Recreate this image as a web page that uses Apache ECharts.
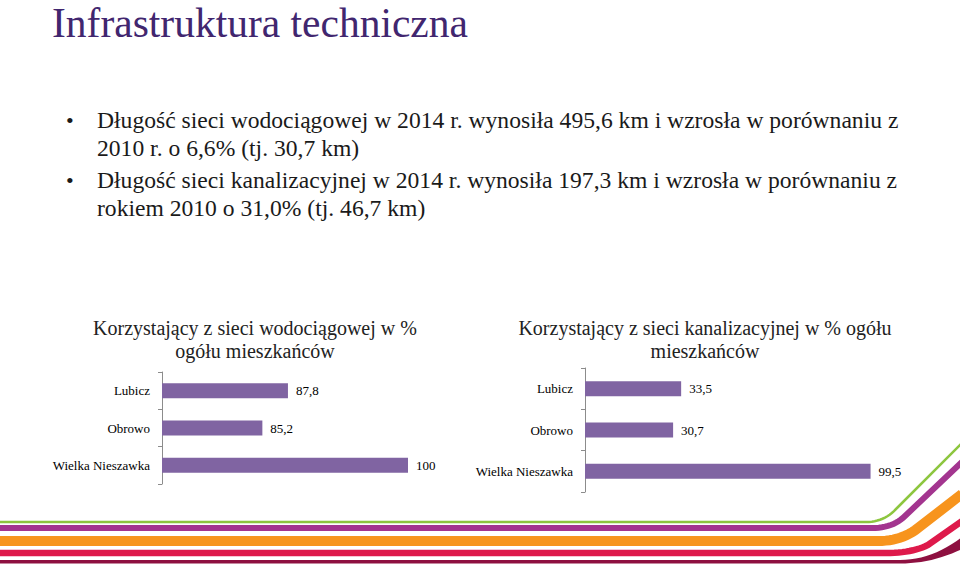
<!DOCTYPE html>
<html>
<head>
<meta charset="utf-8">
<script src="https://cdn.jsdelivr.net/npm/echarts@6/dist/echarts.min.js"></script>
<style>
html,body{margin:0;padding:0;background:#fff;}
#main{width:960px;height:569px;}
</style>
</head>
<body>
<div id="main"></div>
<script>
// ---- data ----
const categories = ['Lubicz', 'Obrowo', 'Wielka Nieszawka'];
const waterValues = [87.8, 85.2, 100];
const sewerValues = [33.5, 30.7, 99.5];
const slideTitle = 'Infrastruktura techniczna';
const bulletLines = [
  'Długość sieci wodociągowej w 2014 r. wynosiła 495,6 km i wzrosła w porównaniu z',
  '2010 r. o 6,6% (tj. 30,7 km)',
  'Długość sieci kanalizacyjnej w 2014 r. wynosiła 197,3 km i wzrosła w porównaniu z',
  'rokiem 2010 o 31,0% (tj. 46,7 km)'
];
const waterTitle = ['Korzystający z sieci wodociągowej w %', 'ogółu mieszkańców'];
const sewerTitle = ['Korzystający z sieci kanalizacyjnej w % ogółu', 'mieszkańców'];

// ---- styles ----
const SERIF_FAMILY = 'Liberation Serif';
const SERIF = '"Liberation Serif", "DejaVu Serif", serif';
const BAR = '#8064A2';
const fmt = p => String(p.value).replace('.', ',');

function txt(text, x, y, size, color, align) {
  return {
    type: 'text', x: x, y: y, silent: true,
    style: {
      text: text, fill: color, font: size + 'px ' + SERIF,
      align: align || 'left', textAlign: align || 'left',
      verticalAlign: 'middle', textVerticalAlign: 'middle'
    }
  };
}
// decorative stripe: straight run, quadratic bend, straight diagonal
function bendPoints(y, xBend, cx, cy, ex, ey, tx, ty) {
  const pts = [[0, y], [xBend, y]];
  for (let i = 1; i <= 12; i++) {
    const t = i / 12, u = 1 - t;
    pts.push([u * u * xBend + 2 * u * t * cx + t * t * ex, u * u * y + 2 * u * t * cy + t * t * ey]);
  }
  pts.push([tx, ty]);
  return pts;
}
function stripe(pts, color, w) {
  return { type: 'polyline', silent: true, shape: { points: pts },
    style: { fill: null, stroke: color, lineWidth: w } };
}

const graphics = [];
graphics.push(txt(slideTitle, 52, 23, 41.5, '#41266F'));
const lineY = [120, 148, 180, 208];
bulletLines.forEach((l, i) => graphics.push(txt(l, 97, lineY[i], 23.6, '#1a1a1a')));
graphics.push(txt('•', 66, lineY[0], 22, '#1a1a1a'));
graphics.push(txt('•', 66, lineY[2], 22, '#1a1a1a'));
graphics.push(txt(waterTitle[0], 255, 328, 20, '#222', 'center'));
graphics.push(txt(waterTitle[1], 255, 351, 20, '#222', 'center'));
graphics.push(txt(sewerTitle[0], 705, 328, 20, '#222', 'center'));
graphics.push(txt(sewerTitle[1], 705, 351, 20, '#222', 'center'));

// decorative stripes
graphics.push(stripe(bendPoints(522, 866, 884, 522, 896, 509, 962, 443), '#8DC63F', 2.5));
graphics.push(stripe(bendPoints(528, 872, 893, 528, 905, 516, 962, 462), '#A3358F', 6));
graphics.push(stripe(bendPoints(541, 878, 902, 541, 918, 528, 962, 494), '#F7941D', 10));
graphics.push(stripe(bendPoints(553, 886, 912, 553, 928, 545, 962, 521), '#DE1A4B', 6.5));
(function () {
  const top = bendPoints(560, 900, 932, 560, 962, 537, 962, 537);
  const bot = bendPoints(563.5, 900, 932, 563.5, 962, 549, 962, 549).reverse();
  graphics.push({ type: 'polygon', silent: true, shape: { points: top.concat(bot) },
    style: { fill: '#8E1040', stroke: null } });
})();

function yAx(gridIndex) {
  return {
    type: 'category', gridIndex: gridIndex, data: categories, inverse: true,
    axisLine: { show: true, lineStyle: { color: '#8C8C8C', width: 1 } },
    axisTick: { show: true, length: 4, lineStyle: { color: '#8C8C8C' } },
    axisLabel: { color: '#000', fontFamily: SERIF_FAMILY, fontWeight: 'normal', fontSize: 13, margin: 12 }
  };
}
function series(idx, data) {
  return {
    type: 'bar', xAxisIndex: idx, yAxisIndex: idx, data: data, barWidth: 15,
    itemStyle: { color: BAR },
    label: { show: true, position: 'right', distance: 8, color: '#000',
      fontFamily: SERIF_FAMILY, fontWeight: 'normal', fontSize: 13, formatter: fmt },
    animation: false
  };
}

const chart = echarts.init(document.getElementById('main'), null, { renderer: 'svg' });
chart.setOption({
  animation: false,
  backgroundColor: '#fff',
  grid: [
    { left: 162, top: 372, width: 246, height: 112 },
    { left: 585, top: 368, width: 287, height: 124 }
  ],
  xAxis: [
    { type: 'value', gridIndex: 0, min: 75, max: 100, show: false, splitLine: { show: false } },
    { type: 'value', gridIndex: 1, min: 0, max: 100, show: false, splitLine: { show: false } }
  ],
  yAxis: [yAx(0), yAx(1)],
  series: [series(0, waterValues), series(1, sewerValues)],
  graphic: graphics
});
</script>
</body>
</html>
